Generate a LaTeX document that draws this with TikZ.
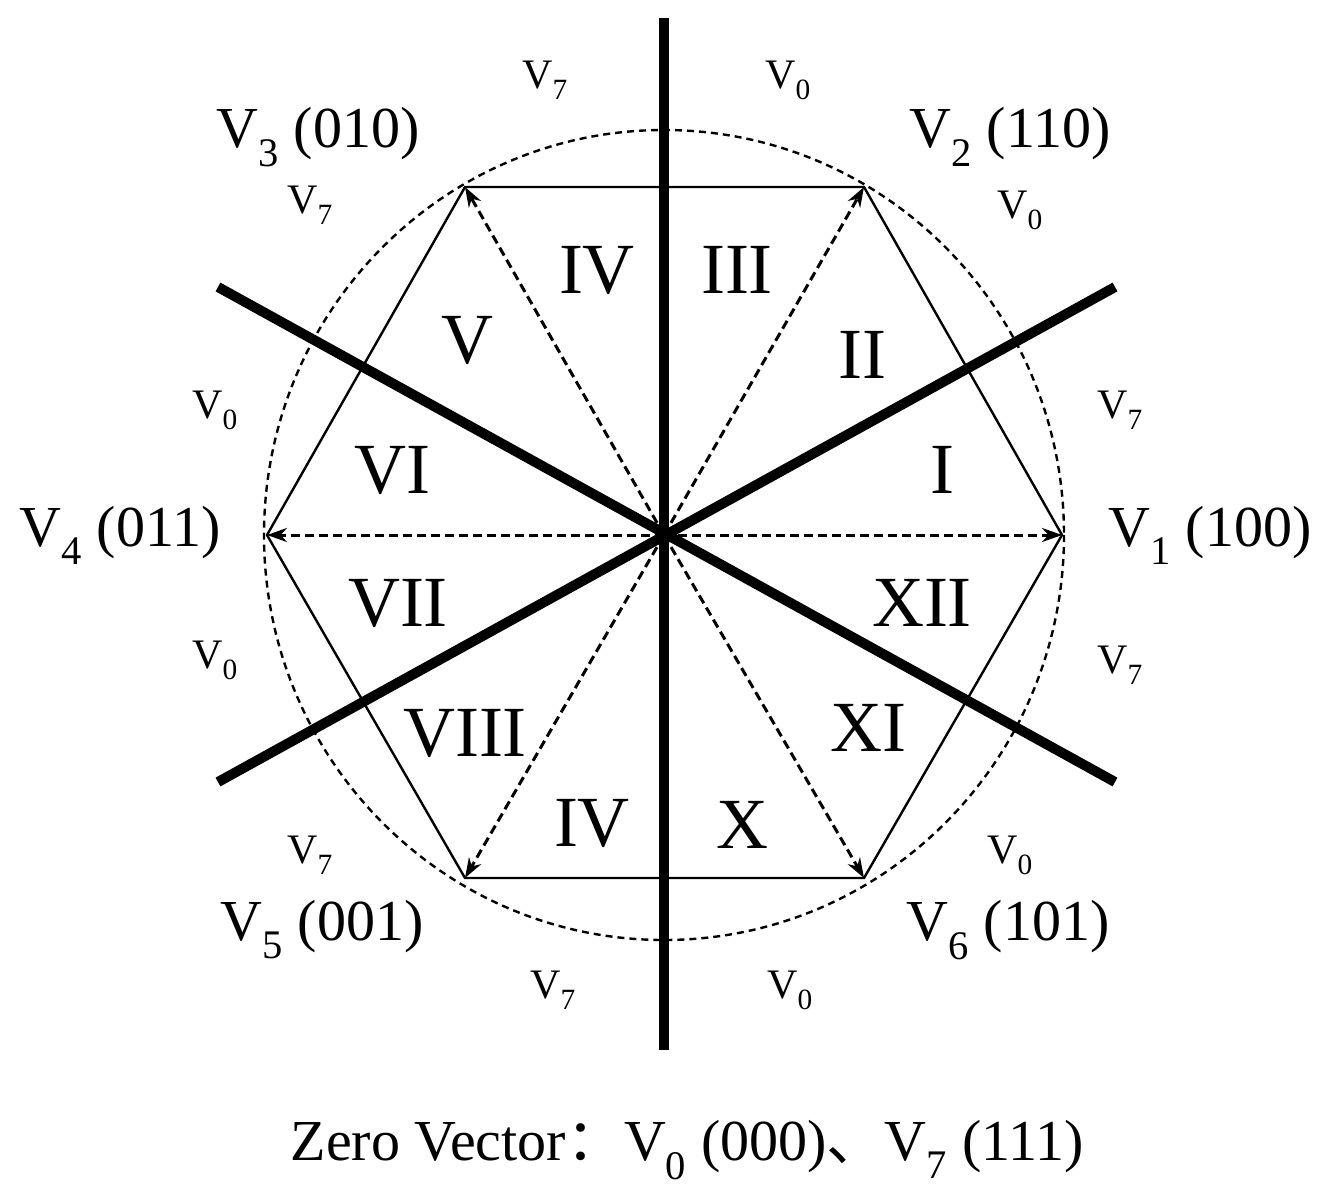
\documentclass[tikz,border=0pt]{standalone}
\usepackage{fontspec}
\setmainfont{Liberation Serif}
\newfontfamily\cjk{Noto Sans CJK SC}
\usetikzlibrary{arrows.meta}
\begin{document}
\begin{tikzpicture}[x=1pt,y=-1pt,
  big/.style={font=\fontsize{58}{62}\selectfont},
  num/.style={font=\fontsize{72}{76}\selectfont},
  sm/.style={font=\fontsize{42}{46}\selectfont},
  thick line/.style={line width=10pt},
  vec/.style={dash pattern=on 9pt off 5pt,line width=3pt,-{Stealth[length=20pt,width=14pt]}}]
\useasboundingbox (0,0) rectangle (1324,1197);
\coordinate (O) at (664,535);
\coordinate (A1) at (1062,535);
\coordinate (A2) at (864,187);
\coordinate (A3) at (465,187);
\coordinate (A4) at (267,535);
\coordinate (A5) at (465,878);
\coordinate (A6) at (864,878);
\draw[dash pattern=on 7pt off 5pt,line width=2.4pt] (O) ellipse (400 and 405);
\draw[line width=2.4pt] (A1)--(A2)--(A3)--(A4)--(A5)--(A6)--cycle;
\foreach \i in {1,...,6} \draw[vec] (O) -- (A\i);
\coordinate (T1) at (664,18); \coordinate (B1) at (664,1050);
\coordinate (T2) at (218,287); \coordinate (B2) at (1115,782);
\coordinate (T3) at (1115,287); \coordinate (B3) at (218,782);
\draw[thick line] (T1)--(B1);
\draw[thick line] (T2)--(B2);
\draw[thick line] (T3)--(B3);
\node[sm] (s1) at (545,80) {V\textsubscript{7}};
\node[sm] (s2) at (788,80) {V\textsubscript{0}};
\node[sm] (s3) at (310,205) {V\textsubscript{7}};
\node[sm] (s4) at (1020,210) {V\textsubscript{0}};
\node[sm] (s5) at (215,410) {V\textsubscript{0}};
\node[sm] (s6) at (1120,410) {V\textsubscript{7}};
\node[sm] (s7) at (215,660) {V\textsubscript{0}};
\node[sm] (s8) at (1120,665) {V\textsubscript{7}};
\node[sm] (s9) at (310,855) {V\textsubscript{7}};
\node[sm] (s10) at (1010,855) {V\textsubscript{0}};
\node[sm] (s11) at (553,990) {V\textsubscript{7}};
\node[sm] (s12) at (790,990) {V\textsubscript{0}};
\node[big] (v3) at (318,137) {V\textsubscript{3} (010)};
\node[big] (v2) at (1010,137) {V\textsubscript{2} (110)};
\node[big] (v4) at (120,535) {V\textsubscript{4} (011)};
\node[big] (v1) at (1210,535) {V\textsubscript{1} (100)};
\node[big] (v5) at (322,930) {V\textsubscript{5} (001)};
\node[big] (v6) at (1008,930) {V\textsubscript{6} (101)};
\node[num] (r4) at (597,270) {IV};
\node[num] (r3) at (737,270) {III};
\node[num] (r5) at (467,340) {V};
\node[num] (r2) at (862,355) {II};
\node[num] (r6) at (392,470) {VI};
\node[num] (r1) at (942,470) {I};
\node[num] (r7) at (398,603) {VII};
\node[num] (r12) at (922,603) {XII};
\node[num] (r8) at (465,733) {VIII};
\node[num] (r11) at (868,728) {XI};
\node[num] (r9) at (592,823) {IV};
\node[num] (r10) at (742,825) {X};
\node[big] (zv) at (687,1150) {Zero Vector{\cjk ：}V\textsubscript{0} (000){\cjk 、}V\textsubscript{7} (111)};
\end{tikzpicture}
\end{document}
